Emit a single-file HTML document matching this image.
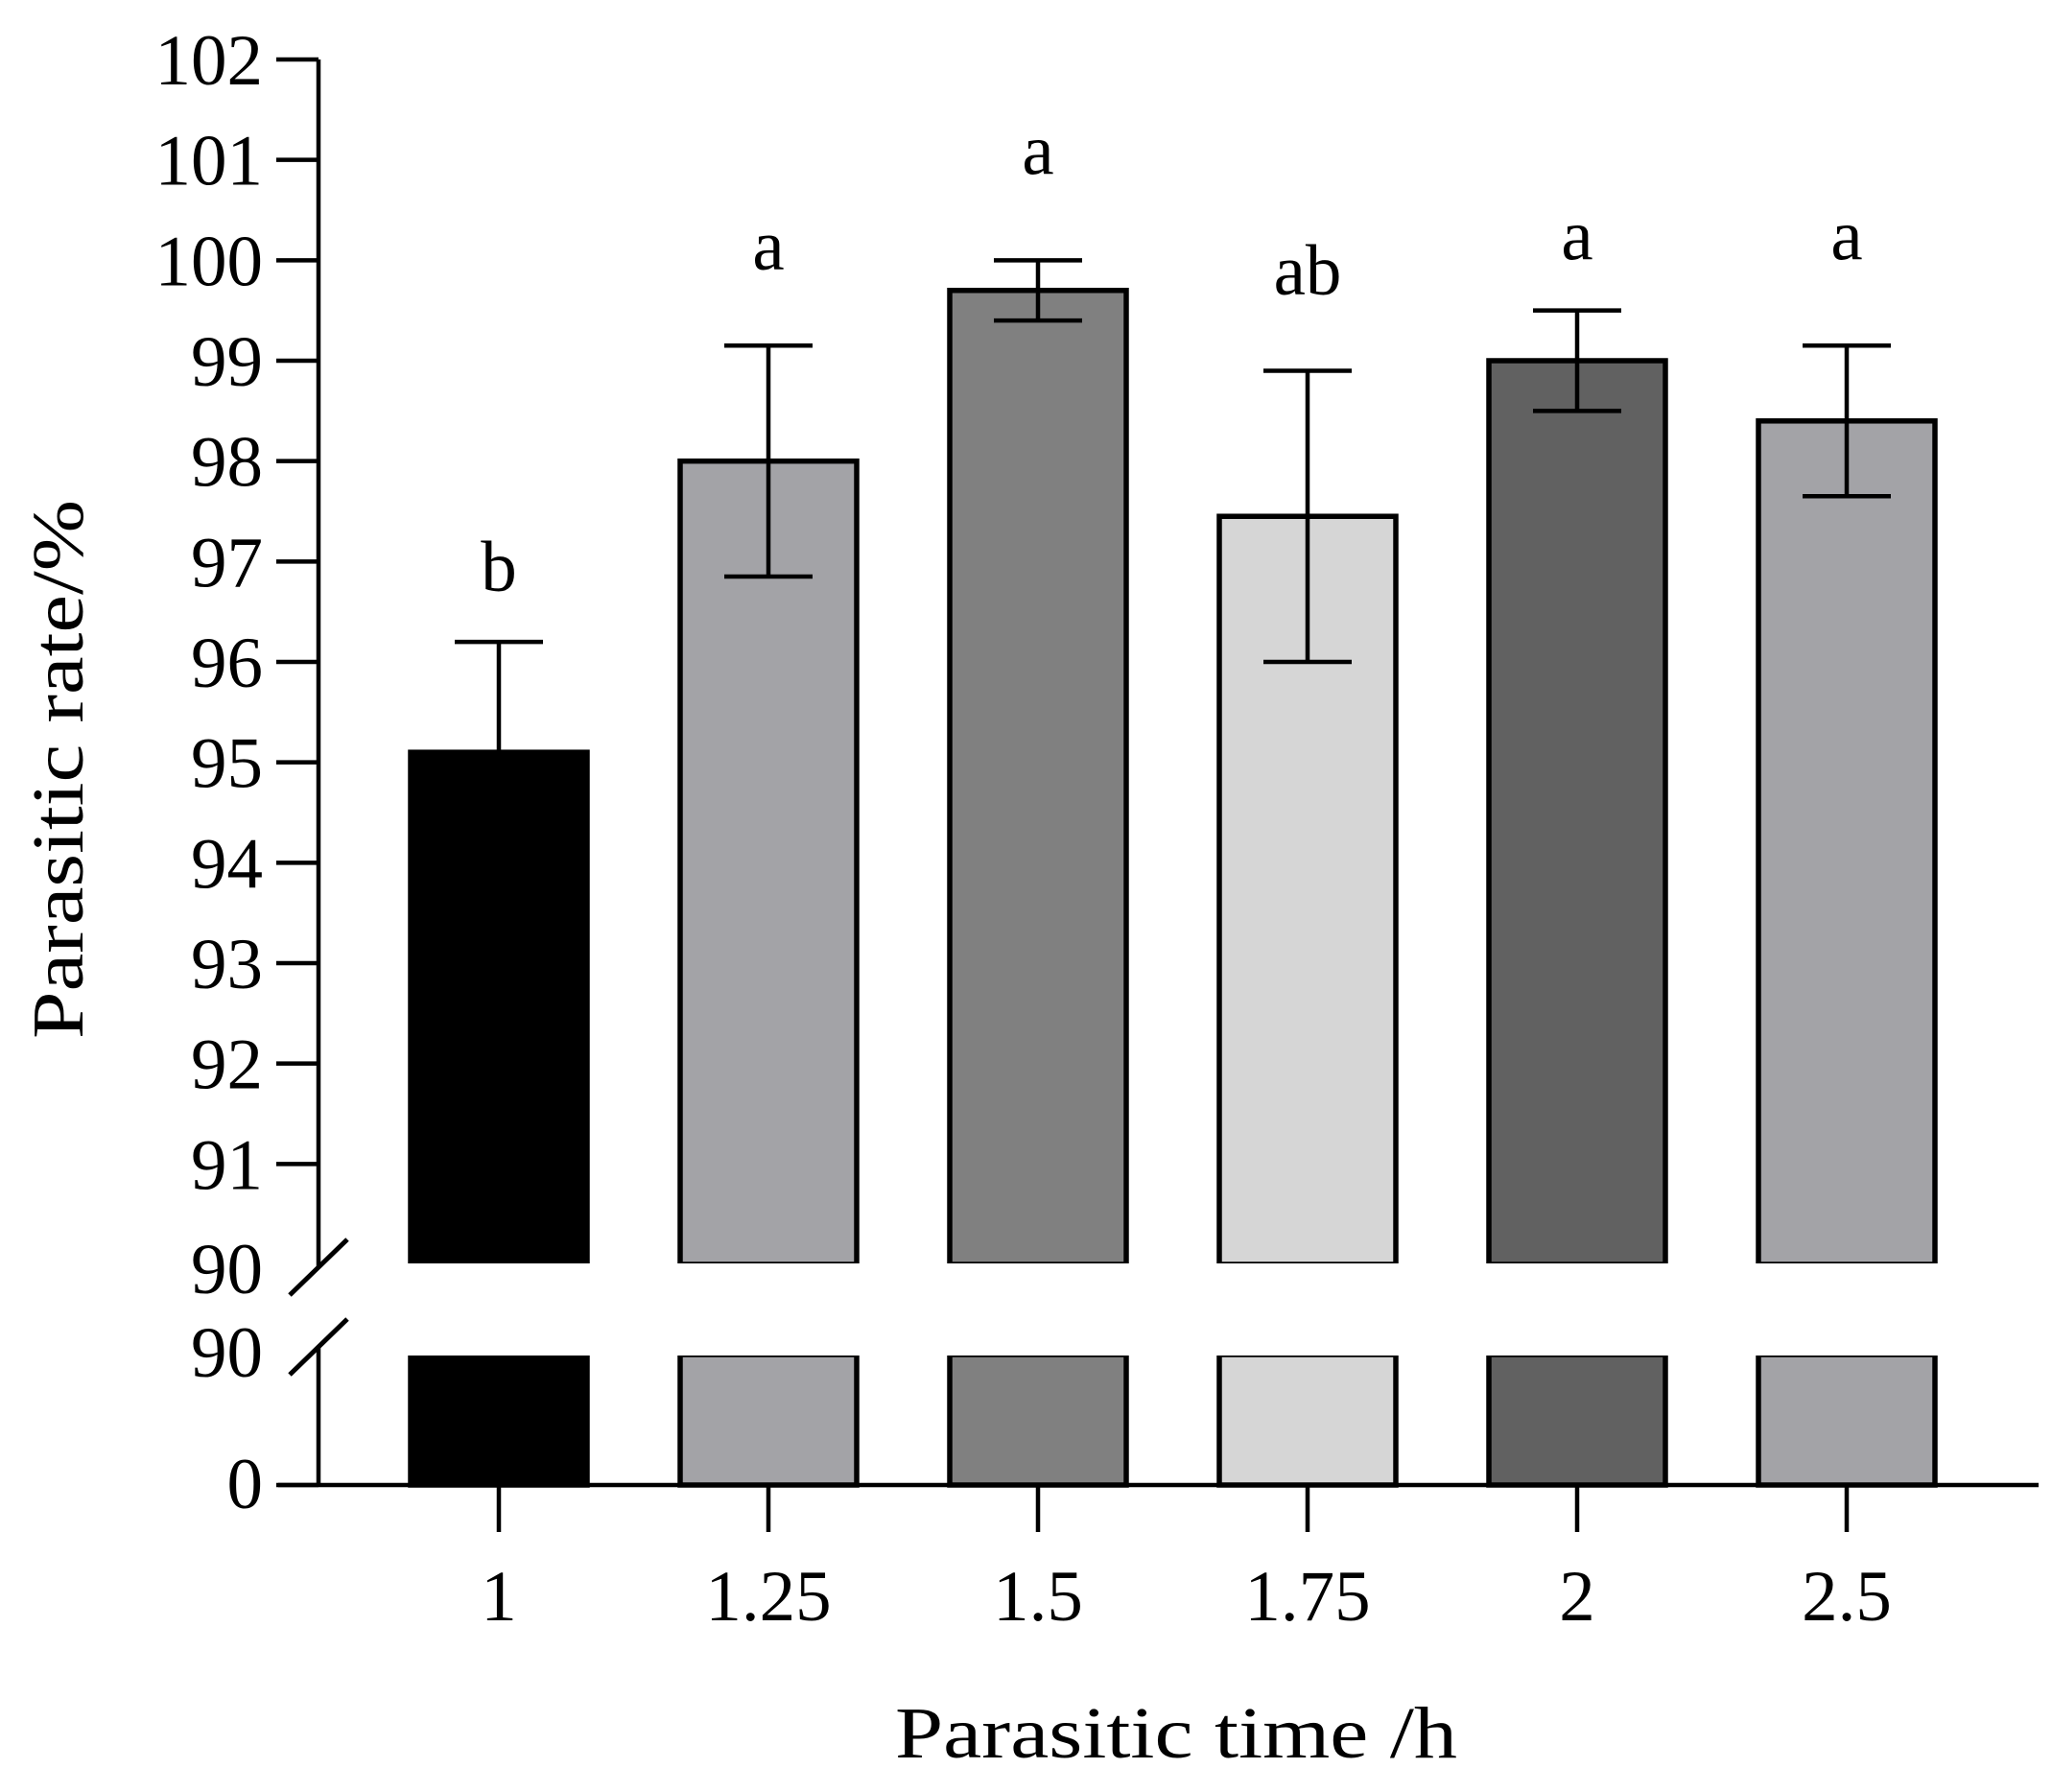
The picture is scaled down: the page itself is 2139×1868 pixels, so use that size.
<!DOCTYPE html>
<html><head><meta charset="utf-8"><style>
html,body{margin:0;padding:0;background:#fff;}
svg{display:block;font-family:"Liberation Serif",serif;}
</style></head><body>
<svg id="chart" width="2139" height="1868" viewBox="0 0 2139 1868" xmlns="http://www.w3.org/2000/svg"></svg>
<script>
const categories = ["1","1.25","1.5","1.75","2","2.5"];
const values = [95.1, 98.0, 99.7, 97.45, 99.0, 98.4];
const errors = [1.1, 1.15, 0.3, 1.45, 0.5, 0.75];
const letters = ["b","a","a","ab","a","a"];
const letterPos = [96.9, 100.1, 101.05, 99.85, 100.2, 100.2];
const colors = ["#000000","#a3a3a7","#808080","#d6d6d6","#616161","#a3a3a7"];
const yTicks = [90,91,92,93,94,95,96,97,98,99,100,101,102];

const svg = document.getElementById('chart');
const NS = 'http://www.w3.org/2000/svg';
function mk(tag, attrs, parent){const e=document.createElementNS(NS,tag);for(const k in attrs)e.setAttribute(k,attrs[k]);(parent||svg).appendChild(e);return e;}

const axisX = 332, yTop = 62, yBreak = 1318, lowTop = 1412, base = 1548;
function y(v){return yBreak - (v-90)*(yBreak-yTop)/12;}
const x0 = 520, step = 281, bw = 184;
function x(i){return x0 + i*step;}

let e;
e = mk('line',{x1:axisX,y1:yTop,x2:axisX,y2:1321,stroke:'#000','stroke-width':4.5});


e = mk('line',{x1:axisX,y1:1403,x2:axisX,y2:base,stroke:'#000','stroke-width':4.5});


e = mk('line',{x1:302,y1:1350,x2:362,y2:1292,stroke:'#000','stroke-width':5});


e = mk('line',{x1:302,y1:1433,x2:362,y2:1375,stroke:'#000','stroke-width':5});



yTicks.forEach(t=>{
  const yy=y(t);
  if(t>90){
    const l=mk('line',{x1:288,y1:yy,x2:axisX,y2:yy,stroke:'#000','stroke-width':4.5});
    
    
  }
  const tx=mk('text',{x:274,y:(t===90?yBreak+4:yy)+26,'text-anchor':'end','font-size':75});
  tx.textContent=t;
  
  
});
e = mk('text',{x:274,y:1435,'text-anchor':'end','font-size':75}); e.textContent='90';


e = mk('text',{x:274,y:1572,'text-anchor':'end','font-size':75}); e.textContent='0';


e = mk('line',{x1:288,y1:base,x2:axisX,y2:base,stroke:'#000','stroke-width':4.5});



categories.forEach((c,i)=>{
  const cx=x(i), v=values[i], er=errors[i];
  const r=mk('rect',{x:cx-bw/2,y:y(v),width:bw,height:yBreak-y(v),fill:colors[i],stroke:'#000','stroke-width':5.5});
  
  
  const r2=mk('rect',{x:cx-bw/2,y:lowTop,width:bw,height:base-lowTop,fill:colors[i],stroke:'#000','stroke-width':5.5});
  
  
  const c1=mk('rect',{x:cx-bw/2-4,y:yBreak-1,width:bw+8,height:6,fill:'#fff'});
  
  
  const c2=mk('rect',{x:cx-bw/2-4,y:lowTop-5,width:bw+8,height:6,fill:'#fff'});
  
  
  const g=mk('g',{stroke:'#000','stroke-width':4.5});
  
  
  mk('line',{x1:cx,y1:y(v+er),x2:cx,y2:y(v-er)},g);
  mk('line',{x1:cx-46,y1:y(v+er),x2:cx+46,y2:y(v+er)},g);
  mk('line',{x1:cx-46,y1:y(v-er),x2:cx+46,y2:y(v-er)},g);
  const tk=mk('line',{x1:cx,y1:base,x2:cx,y2:1597,stroke:'#000','stroke-width':4.5});
  
  
  const lb=mk('text',{x:cx,y:1689,'text-anchor':'middle','font-size':75});
  lb.textContent=c;
  
  
  const lt=mk('text',{x:cx,y:y(letterPos[i])+20,'text-anchor':'middle','font-size':75});
  lt.textContent=letters[i];
  
  
});
e = mk('line',{x1:290,y1:base,x2:2125,y2:base,stroke:'#000','stroke-width':4.5});



e = mk('text',{x:1226,y:1832,'text-anchor':'middle','font-size':76,textLength:586,lengthAdjust:'spacingAndGlyphs'});
e.textContent='Parasitic time /h';


e = mk('text',{x:0,y:0,'text-anchor':'middle','font-size':76,textLength:562,lengthAdjust:'spacingAndGlyphs',transform:'translate(86,802) rotate(-90)'});
e.textContent='Parasitic rate/%';


</script>
</body></html>
